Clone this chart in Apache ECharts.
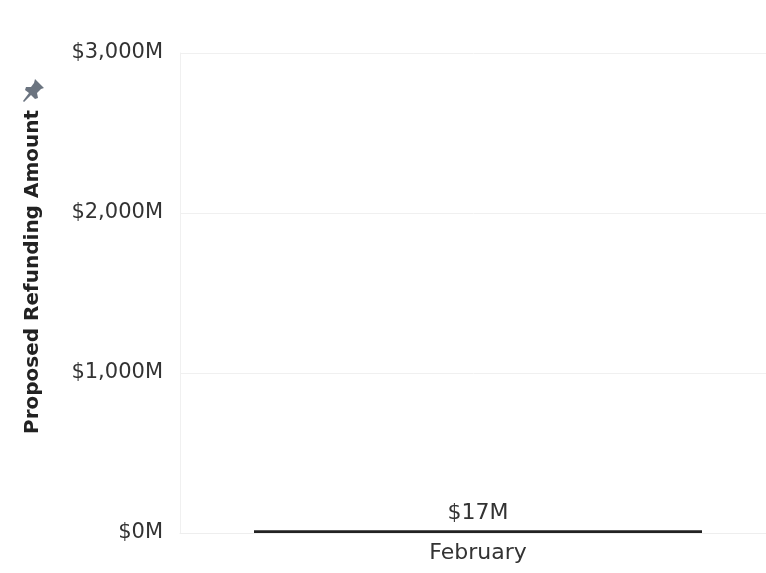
<!DOCTYPE html>
<html><head><meta charset="utf-8">
<script src="https://cdn.jsdelivr.net/npm/echarts@6/dist/echarts.min.js"></script>
<style>html,body{margin:0;padding:0;background:#fff}#c{width:766px;height:573px}</style>
</head><body><div id="c"></div>
<script>
const categories = ['February'];
const refundValues = [17];
const yTicks = [0, 1000, 2000, 3000];
const yAxisTitle = 'Proposed Refunding Amount';

const chart = echarts.init(document.getElementById('c'), null, {renderer: 'canvas'});
const font = '"DejaVu Sans", sans-serif';
chart.setOption({
  animation: false,
  grid: {left: 180, width: 596, top: 53, height: 480, containLabel: false, outerBoundsMode: 'none'},
  xAxis: {
    type: 'category', data: categories,
    axisLine: {show: true, lineStyle: {color: '#eeeeee', width: 1}},
    axisTick: {show: false},
    axisLabel: {color: '#333', fontSize: 22, fontFamily: font, margin: 9}
  },
  yAxis: {
    type: 'value', min: yTicks[0], max: yTicks[yTicks.length - 1], interval: 1000,
    axisLine: {show: true, lineStyle: {color: '#f0f0f0'}},
    axisTick: {show: false},
    splitLine: {lineStyle: {color: '#f0f0f0', width: 1}},
    axisLabel: {color: '#333', fontSize: 21, fontFamily: font, margin: 17,
      formatter: v => '$' + v.toLocaleString('en-US') + 'M'}
  },
  series: [{
    type: 'bar', data: refundValues, barWidth: 448,
    itemStyle: {color: '#222'},
    label: {show: true, position: 'top', distance: 6, color: '#333', fontSize: 22, fontFamily: font,
      formatter: p => '$' + p.value + 'M'}
  }],
  graphic: [{
    type: 'text', x: 33, y: 272, rotation: Math.PI / 2,
    style: {text: yAxisTitle, fill: '#222', font: 'bold 20px "DejaVu Sans", sans-serif',
      textAlign: 'center', textVerticalAlign: 'middle'}
  }, {
    type: 'polygon', x: 22, y: 79,
    shape: {points: [[13,0],[22,9],[19,10],[15,14],[16,19],[13,20],[9,16],[2,23],[1,22],[7,14],[3,11],[4,8],[9,8],[12,4]]},
    style: {fill: '#6b7480'}
  }]
});
</script></body></html>
